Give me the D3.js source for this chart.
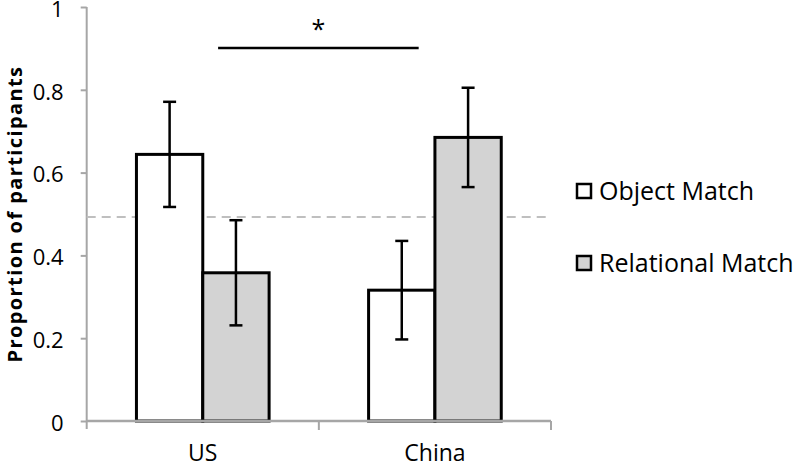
<!DOCTYPE html>
<html>
<head>
<meta charset="utf-8">
<script src="https://cdn.jsdelivr.net/npm/d3@7"></script>
<style>
  body { margin: 0; background: #fff; }
  text { font-family: "Open Sans", sans-serif; fill: #000; }
</style>
</head>
<body>
<div class="bar-chart"></div>
<script>
const categories = ["US", "China"];
const series = ["Object Match", "Relational Match"];
const objectMatch = [0.644, 0.316];
const relationalMatch = [0.358, 0.685];
const objectErr = [0.127, 0.119];
const relationalErr = [0.127, 0.12];
const yTicks = [0, 0.2, 0.4, 0.6, 0.8, 1];
const chanceLevel = 0.493;
const sigLevel = 0.901;

const width = 793, height = 468;
const colors = { "Object Match": "#ffffff", "Relational Match": "#d3d3d3" };

const data = categories.map((c, i) => ({
  cat: c,
  bars: [
    { s: series[0], v: objectMatch[i], e: objectErr[i] },
    { s: series[1], v: relationalMatch[i], e: relationalErr[i] }
  ]
}));

const svg = d3.select(".bar-chart").append("svg")
  .attr("width", width).attr("height", height);

const x = d3.scaleBand().domain(categories).range([86.7, 551]).padding(0);
const xs = d3.scaleBand().domain(series).range([0, x.bandwidth()])
  .paddingInner(0).paddingOuter(0.75);
const y = d3.scaleLinear().domain([0, 1]).range([421, 7]);

// y axis
const yAxis = svg.append("g")
  .attr("transform", "translate(" + x.range()[0] + ",0)")
  .call(d3.axisLeft(y).tickValues(yTicks).tickSize(6).tickPadding(17)
    .tickFormat(d => d === 0 || d === 1 ? String(d) : d.toFixed(1)));
yAxis.select(".domain").attr("stroke", "#a6a6a6").attr("stroke-width", 2)
  .attr("d", "M0," + y(1) + "V" + (y(0) + 8));
yAxis.selectAll(".tick line").attr("stroke", "#a6a6a6").attr("stroke-width", 2);
yAxis.selectAll(".tick text").attr("font-size", 22).attr("font-family", "Open Sans")
  .attr("dy", "0.42em");

// chance line
svg.append("line")
  .attr("x1", x.range()[0]).attr("x2", 546)
  .attr("y1", y(chanceLevel)).attr("y2", y(chanceLevel))
  .attr("stroke", "#bfbfbf").attr("stroke-width", 2)
  .attr("stroke-dasharray", "9,6");

// bars
const g = svg.selectAll(".grp").data(data).enter().append("g")
  .attr("transform", d => "translate(" + x(d.cat) + ",0)");

g.selectAll("rect").data(d => d.bars).enter().append("rect")
  .attr("x", d => xs(d.s))
  .attr("width", xs.bandwidth())
  .attr("y", d => y(d.v))
  .attr("height", d => y(0) - y(d.v))
  .attr("fill", d => colors[d.s])
  .attr("stroke", "#000").attr("stroke-width", 3);

// error bars
const eb = g.selectAll(".err").data(d => d.bars).enter().append("g")
  .attr("transform", d => "translate(" + (xs(d.s) + xs.bandwidth() / 2) + ",0)");
eb.append("line").attr("x1", 0).attr("x2", 0)
  .attr("y1", d => y(d.v + d.e)).attr("y2", d => y(d.v - d.e))
  .attr("stroke", "#000").attr("stroke-width", 2.5);
eb.append("line").attr("x1", -6.5).attr("x2", 6.5)
  .attr("y1", d => y(d.v + d.e)).attr("y2", d => y(d.v + d.e))
  .attr("stroke", "#000").attr("stroke-width", 2.5);
eb.append("line").attr("x1", -6.5).attr("x2", 6.5)
  .attr("y1", d => y(d.v - d.e)).attr("y2", d => y(d.v - d.e))
  .attr("stroke", "#000").attr("stroke-width", 2.5);

// x axis
const xAxis = svg.append("g")
  .attr("transform", "translate(0," + y(0) + ")")
  .call(d3.axisBottom(x).tickSize(0).tickPadding(24));
xAxis.select(".domain").attr("stroke", "#a6a6a6").attr("stroke-width", 2.5)
  .attr("d", "M" + x.range()[0] + ",0H" + x.range()[1]);
xAxis.selectAll(".tick text").attr("font-size", 23).attr("font-family", "Open Sans");
xAxis.selectAll(".bound").data(categories).enter().append("line")
  .attr("x1", d => x(d) + x.bandwidth()).attr("x2", d => x(d) + x.bandwidth())
  .attr("y1", 0).attr("y2", 9)
  .attr("stroke", "#a6a6a6").attr("stroke-width", 2);

// significance
const sx1 = x("US") + x.bandwidth() * 0.566;
const sx2 = x("China") + x.bandwidth() * 0.43;
svg.append("line")
  .attr("x1", sx1).attr("x2", sx2)
  .attr("y1", y(sigLevel)).attr("y2", y(sigLevel))
  .attr("stroke", "#000").attr("stroke-width", 2.5);
svg.append("text")
  .attr("x", (sx1 + sx2) / 2).attr("y", y(sigLevel) - 10)
  .attr("text-anchor", "middle").attr("font-size", 25)
  .text("*");

// y title
svg.append("text")
  .attr("transform", "translate(21.5,214) rotate(-90)")
  .attr("text-anchor", "middle")
  .attr("font-size", 20).attr("font-weight", "bold")
  .attr("letter-spacing", "1.4px")
  .text("Proportion of participants");

// legend
const leg = svg.selectAll(".leg").data(series).enter().append("g")
  .attr("transform", (d, i) => "translate(577," + (191 + i * 72) + ")");
leg.append("rect")
  .attr("x", 0).attr("y", -7).attr("width", 14).attr("height", 14)
  .attr("fill", d => colors[d]).attr("stroke", "#000").attr("stroke-width", 2.5);
leg.append("text")
  .attr("x", 22).attr("dy", "0.35em")
  .attr("font-size", 25)
  .text(d => d);
</script>
</body>
</html>
